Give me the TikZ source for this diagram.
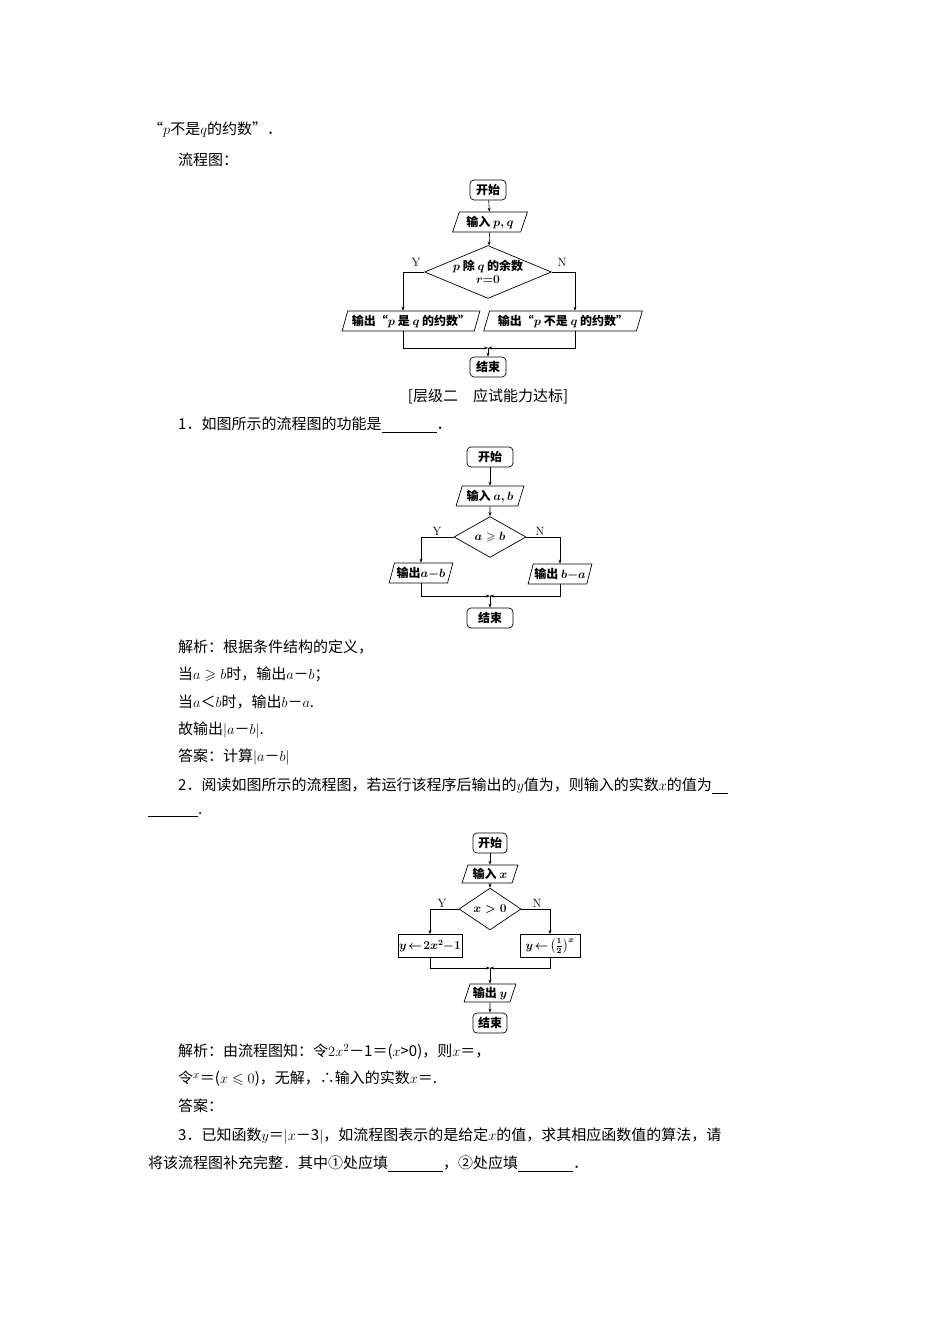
\documentclass[tikz,border=0pt]{standalone}
\usepackage{amsmath,amssymb}
\usepackage{fontspec}
\newfontfamily\cjk{Noto Sans CJK SC}
\usetikzlibrary{shapes.geometric,arrows.meta}
\begin{document}
\begin{tikzpicture}[x=1pt,y=-1pt,
  txt/.style={anchor=west,inner sep=0pt,font=\cjk\fontsize{15}{17}\selectfont},
  fc/.style={draw,line width=0.7pt,inner sep=1pt,font=\cjk\bfseries\fontsize{12}{14}\selectfont},
  term/.style={fc,rounded corners=4pt,minimum height=20pt},
  io/.style={fc,trapezium,trapezium left angle=70,trapezium right angle=110,trapezium stretches=true,minimum height=20pt},
  dec/.style={fc,diamond,inner sep=0pt},
  proc/.style={fc,rectangle,minimum height=23pt},
  arr/.style={line width=0.6pt,-{Stealth[length=4pt,width=3pt]}},
  lab/.style={font=\fontsize{12}{14}\selectfont,inner sep=0pt}]
\useasboundingbox (0,0) rectangle (950,1344);
\fill[white] (0,0) rectangle (950,1344);
\node[txt] (t1) at (148,130) {“$p$不是$q$的约数”．};
\node[txt] (t2) at (178,160) {流程图：};
% flowchart 1
\node[term,minimum width=36pt] (a1) at (488,190) {开始};
\node[io,minimum width=75pt] (a2) at (490,222) {输入 $\boldsymbol{p,q}$};
\node[dec,minimum width=122pt,minimum height=50pt,aspect=2.4] (a3) at (488,272) {\shortstack{$\boldsymbol p$ 除 $\boldsymbol q$ 的余数\\$\boldsymbol{r{=}0}$}};
\node[lab] (ay) at (416,262) {Y};
\node[lab] (an) at (562,262) {N};
\node[io,minimum width=138pt] (a4) at (411,321) {输出“$\boldsymbol p$ 是 $\boldsymbol q$ 的约数”};
\node[io,minimum width=159pt] (a5) at (563,321) {输出“$\boldsymbol p$ 不是 $\boldsymbol q$ 的约数”};
\coordinate (j1) at (488,348);
\node[term,minimum width=36pt] (a6) at (488,367) {结束};
\draw[arr] (a1) -- (a2);
\draw[arr] (a2) -- (a3);
\draw[arr] (a3.west) -| ([xshift=-8pt]a4.north);
\draw[arr] (a3.east) -| ([xshift=12pt]a5.north);
\draw[arr] ([xshift=-8pt]a4.south) |- (j1);
\draw[arr] ([xshift=12pt]a5.south) |- (j1);
\draw[arr] (j1) -- (a6);
\node[anchor=center,inner sep=0pt,font=\cjk\fontsize{15}{17}\selectfont] (h) at (488,396) {[层级二　应试能力达标]};
\node[txt] (t3) at (178,425) {1．如图所示的流程图的功能是\underline{\hspace{55pt}}．};
% flowchart 2
\node[term,minimum width=46pt] (b1) at (490,457) {开始};
\node[io,minimum width=68pt] (b2) at (490,496) {输入 $\boldsymbol{a,b}$};
\node[dec,minimum width=72pt,minimum height=30pt] (b3) at (490,537) {$\boldsymbol{a\geqslant b}$};
\node[lab] (by) at (437,531) {Y};
\node[lab] (bn) at (540,531) {N};
\node[io,minimum width=64pt] (b4) at (421,573) {输出$\boldsymbol{a{-}b}$};
\node[io,minimum width=64pt] (b5) at (560,574) {输出 $\boldsymbol{b{-}a}$};
\coordinate (j2) at (490,596);
\node[term,minimum width=46pt] (b6) at (490,618) {结束};
\draw[arr] (b1) -- (b2);
\draw[arr] (b2) -- (b3);
\draw[arr] (b3.west) -| (b4.north);
\draw[arr] (b3.east) -| (b5.north);
\draw[arr] (b4.south) |- (j2);
\draw[arr] (b5.south) |- (j2);
\draw[arr] (j2) -- (b6);
\node[txt] (t4) at (178,647) {解析：根据条件结构的定义，};
\node[txt] (t5) at (178,674) {当$a\geqslant b$时，输出$a$－$b$；};
\node[txt] (t6) at (178,702) {当$a$＜$b$时，输出$b$－$a$.};
\node[txt] (t7) at (178,730) {故输出$|a$－$b|$.};
\node[txt] (t8) at (178,757) {答案：计算$|a$－$b|$};
\node[txt] (t9) at (178,786) {2．阅读如图所示的流程图，若运行该程序后输出的$y$值为，则输入的实数$x$的值为\underline{\hspace{16pt}}};
\node[txt] (t10) at (148,815) {\underline{\hspace{50pt}}.};
% flowchart 3
\node[term,minimum width=34pt] (c1) at (490,843) {开始};
\node[io,minimum width=56pt,minimum height=18pt] (c2) at (490,874) {输入 $\boldsymbol x$};
\node[dec,minimum width=62pt,minimum height=28pt] (c3) at (490,909) {$\boldsymbol{x>0}$};
\node[lab] (cy) at (442,903) {Y};
\node[lab] (cn) at (537,903) {N};
\node[proc,minimum width=60pt] (c4) at (430,946) {$\boldsymbol{y\!\leftarrow\!2x^2{-}1}$};
\node[proc,minimum width=60pt] (c5) at (550,946) {$\boldsymbol{y\!\leftarrow\!\left(\frac12\right)^{x}}$};
\coordinate (j3) at (490,968);
\node[io,minimum width=52pt,minimum height=18pt] (c6) at (490,993) {输出 $\boldsymbol y$};
\node[term,minimum width=34pt] (c7) at (490,1023) {结束};
\draw[arr] (c1) -- (c2);
\draw[arr] (c2) -- (c3);
\draw[arr] (c3.west) -| (c4.north);
\draw[arr] (c3.east) -| (c5.north);
\draw[arr] (c4.south) |- (j3);
\draw[arr] (c5.south) |- (j3);
\draw[arr] (j3) -- (c6);
\draw[arr] (c6) -- (c7);
\node[txt] (t11) at (178,1052) {解析：由流程图知：令$2x^2$－1＝($x$>0)，则$x$＝，};
\node[txt] (t12) at (178,1079) {令$^x$＝($x\leqslant0$)，无解，∴输入的实数$x$＝.};
\node[txt] (t13) at (178,1106) {答案：};
\node[txt] (t14) at (178,1136) {3．已知函数$y$＝$|x$－3$|$，如流程图表示的是给定$x$的值，求其相应函数值的算法，请};
\node[txt] (t15) at (148,1164) {将该流程图补充完整．其中①处应填\underline{\hspace{55pt}}，②处应填\underline{\hspace{55pt}}．};
\end{tikzpicture}
\end{document}
